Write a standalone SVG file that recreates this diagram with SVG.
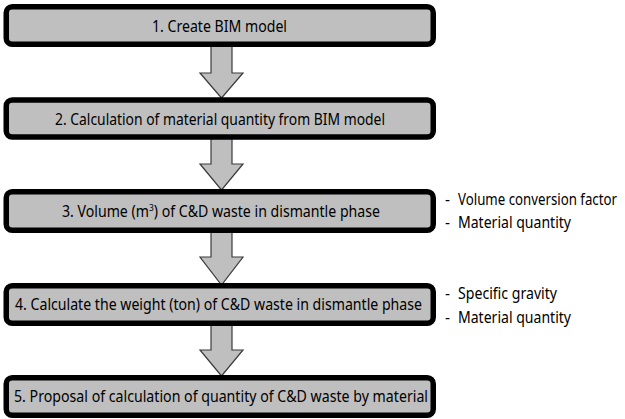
<svg xmlns="http://www.w3.org/2000/svg" width="625" height="419" viewBox="0 0 625 419">
<style>
.box{fill:#bfbfbf;stroke:#000;stroke-width:5.5}
.arr{fill:#bfbfbf;stroke:#3a3a3a;stroke-width:1.2;stroke-linejoin:miter}
text{font-family:"Noto Sans","Noto Sans CJK KR",sans-serif;font-size:16px;fill:#000}
.n{font-size:15.5px}
</style>
<rect width="625" height="419" fill="#fff"/>
<g id="connectors">
<polygon class="arr" points="211,45 232,45 232,73 243,73 221.5,98 200,73 211,73"/>
<polygon class="arr" points="211,138 232,138 232,164 243,164 221.5,190 200,164 211,164"/>
<polygon class="arr" points="211,231 232,231 232,257 243,257 221.5,285 200,257 211,257"/>
<polygon class="arr" points="211,324 232,324 232,350 243,350 221.5,376 200,350 211,350"/>
</g>
<g id="n1"><rect class="box" x="6.25" y="6.75" width="427" height="37.5" rx="6"/>
<text x="152" y="31.5" textLength="135" lengthAdjust="spacingAndGlyphs">1. Create BIM model</text></g>
<g id="n2"><rect class="box" x="6.25" y="100" width="427" height="37" rx="6"/>
<text x="55" y="124.5" textLength="330" lengthAdjust="spacingAndGlyphs">2. Calculation of material quantity from BIM model</text></g>
<g id="n3"><rect class="box" x="6.25" y="191.75" width="427" height="38.5" rx="6"/>
<text x="62" y="217" textLength="318" lengthAdjust="spacingAndGlyphs">3. Volume (m<tspan font-size="9.5" dy="-6.5">3</tspan><tspan dy="6.5">) of C&amp;D waste in dismantle phase</tspan></text></g>
<g id="n4"><rect class="box" x="6.25" y="285.75" width="427" height="37.5" rx="6"/>
<text x="15" y="310" textLength="407" lengthAdjust="spacingAndGlyphs">4. Calculate the weight (ton) of C&amp;D waste in dismantle phase</text></g>
<g id="n5"><rect class="box" x="6.25" y="377.75" width="427" height="37.5" rx="6"/>
<text x="14" y="402" textLength="414" lengthAdjust="spacingAndGlyphs">5. Proposal of calculation of quantity of C&amp;D waste by material</text></g>
<g id="notes3">
<text class="n" x="445" y="205">-<tspan x="458" textLength="159" lengthAdjust="spacingAndGlyphs">Volume conversion factor</tspan></text>
<text class="n" x="445" y="228">-<tspan x="458" textLength="113" lengthAdjust="spacingAndGlyphs">Material quantity</tspan></text>
</g>
<g id="notes4">
<text class="n" x="445" y="299">-<tspan x="458" textLength="99" lengthAdjust="spacingAndGlyphs">Specific gravity</tspan></text>
<text class="n" x="445" y="323">-<tspan x="458" textLength="113" lengthAdjust="spacingAndGlyphs">Material quantity</tspan></text>
</g>
</svg>
